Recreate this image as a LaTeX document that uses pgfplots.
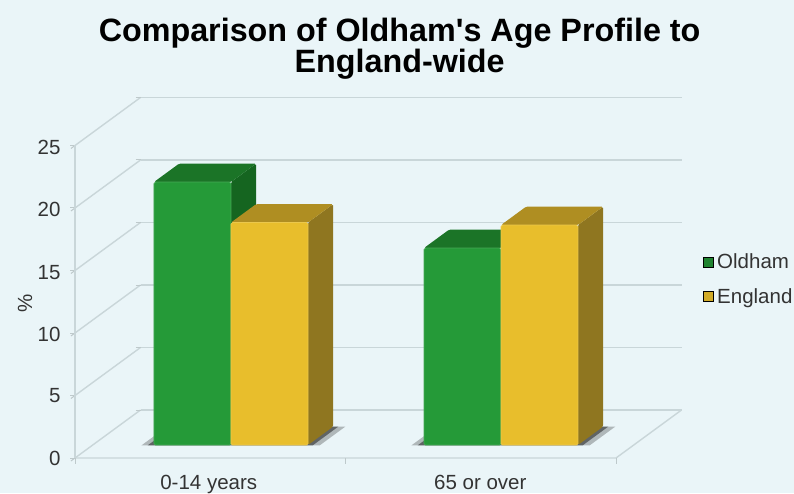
\documentclass[border=0pt]{standalone}
\usepackage{fontspec}
\setmainfont{Liberation Sans}[Ligatures=TeXOff]
\usepackage{pgfplots}
\pgfplotsset{compat=1.18}
\definecolor{bgc}{HTML}{EAF5F8}
\definecolor{gridc}{HTML}{C9D6D9}
\definecolor{txt}{HTML}{333333}
\definecolor{gf}{HTML}{259A38}
\definecolor{gt}{HTML}{1B7427}
\definecolor{gs}{HTML}{156520}
\definecolor{yf}{HTML}{E8BE2C}
\definecolor{yt}{HTML}{AF8E22}
\definecolor{ys}{HTML}{8F7620}
\pgfplotsset{
  front/.style={draw=#1,line width=0.7pt,rounded corners=1.5pt,forget plot},
  face/.style={draw=none,rounded corners=1.5pt,forget plot},
  shad/.style={fill=black,fill opacity=#1,draw=none,forget plot},
}
\begin{document}
\begin{tikzpicture}[x=1pt,y=1pt]
\useasboundingbox (0,0) rectangle (794,493);
\fill[bgc] (0,0) rectangle (794,493);
\begin{axis}[
  at={(75pt,35pt)},anchor=origin,
  x={(270.5pt,0pt)},y={(65.5pt,48pt)},z={(0pt,12.5pt)},
  xmin=0,xmax=2,ymin=0,ymax=1,zmin=0,zmax=25,
  clip=false,
  axis line style={draw=none},
  xtick=\empty,
  extra x ticks={0.5,1.5},extra x tick labels={0-14 years,65 or over},
  extra x tick style={major tick length=0pt,xticklabel style={yshift=-13.5pt,xshift=5pt}},
  ytick=\empty,
  ztick={0,5,10,15,20,25},
  xtick pos=left,ztick pos=left,
  tick align=outside,major tick length=5pt,
  tick style={gridc!85!gray,line width=1pt},
  major z grid style={gridc,line width=1.4pt},
  zmajorgrids=true,
  ticklabel style={font=\fontsize{20.5}{24}\selectfont,text=txt},
  zticklabel style={xshift=-7pt,yshift=6pt},
  /pgf/number format/assume math mode=true,
  title={Comparison of Oldham's Age Profile to\\England-wide},
  title style={at={(axis cs:1.2,0,32.28)},anchor=center,align=center,
    font=\fontsize{32.3}{31.5}\selectfont\bfseries,text=black},
  zlabel={\%},
  every axis z label/.style={at={(axis cs:-0.185,0,12.4)},rotate=90,anchor=center,
    font=\fontsize{20.5}{24}\selectfont,text=txt},
  legend style={at={(axis cs:2.322,0,14.3)},anchor=west,draw=none,fill=none,
    font=\fontsize{20.5}{24}\selectfont,text=txt,row sep=18pt,inner sep=0pt,
    nodes={inner xsep=3.5pt,inner ysep=0pt}},
  legend image code/.code={\fill[#1] (0pt,-5pt) rectangle (10pt,5pt);},
  legend cell align=left,
]
% floor and axes
\addplot3[gridc,line width=1.4pt,forget plot] coordinates {(0,0,0) (2,0,0) (2,1,0)};
\addplot3[gridc,line width=1.4pt,forget plot] coordinates {(0,0,0) (0,0,25)};
% category tick marks
\addplot3[gridc!85!gray,line width=1pt,forget plot] coordinates {(0,0,0) (0,0,-0.45)};
\addplot3[gridc!85!gray,line width=1pt,forget plot] coordinates {(1,0,0) (1,0,-0.45)};
\addplot3[gridc!85!gray,line width=1pt,forget plot] coordinates {(2,0,0) (2,0,-0.45)};
% shadows
\addplot3[shad=0.25] coordinates {(0.182,0.262,0) (0.841,0.262,0) (0.841,0.655,0) (0.182,0.655,0)} --cycle;
\addplot3[shad=0.45] coordinates {(0.205,0.262,0) (0.815,0.262,0) (0.815,0.655,0) (0.205,0.655,0)} --cycle;
\addplot3[shad=0.25] coordinates {(1.18,0.262,0) (1.839,0.262,0) (1.839,0.655,0) (1.18,0.655,0)} --cycle;
\addplot3[shad=0.45] coordinates {(1.203,0.262,0) (1.813,0.262,0) (1.813,0.655,0) (1.203,0.655,0)} --cycle;
% 0-14: Oldham
\addplot3[fill=gs,face] coordinates {(0.5113,0.27,0) (0.5113,0.655,0) (0.5113,0.655,21.04) (0.5113,0.27,21.04)} --cycle;
\addplot3[fill=gt,face] coordinates {(0.2266,0.27,21.04) (0.5113,0.27,21.04) (0.5113,0.655,21.04) (0.2266,0.655,21.04)} --cycle;
\addplot3[fill=gf,front=gf!85!white] coordinates {(0.2266,0.27,0) (0.5113,0.27,0) (0.5113,0.27,21.04) (0.2266,0.27,21.04)} --cycle;
% 0-14: England
\addplot3[fill=ys,face] coordinates {(0.796,0.27,0) (0.796,0.655,0) (0.796,0.655,17.8) (0.796,0.27,17.8)} --cycle;
\addplot3[fill=yt,face] coordinates {(0.5113,0.27,17.8) (0.796,0.27,17.8) (0.796,0.655,17.8) (0.5113,0.655,17.8)} --cycle;
\addplot3[fill=yf,front=yf!85!white] coordinates {(0.5113,0.27,0) (0.796,0.27,0) (0.796,0.27,17.8) (0.5113,0.27,17.8)} --cycle;
% 65+: Oldham
\addplot3[fill=gs,face] coordinates {(1.5095,0.27,0) (1.5095,0.655,0) (1.5095,0.655,15.76) (1.5095,0.27,15.76)} --cycle;
\addplot3[fill=gt,face] coordinates {(1.2248,0.27,15.76) (1.5095,0.27,15.76) (1.5095,0.655,15.76) (1.2248,0.655,15.76)} --cycle;
\addplot3[fill=gf,front=gf!85!white] coordinates {(1.2248,0.27,0) (1.5095,0.27,0) (1.5095,0.27,15.76) (1.2248,0.27,15.76)} --cycle;
% 65+: England
\addplot3[fill=ys,face] coordinates {(1.794,0.27,0) (1.794,0.655,0) (1.794,0.655,17.6) (1.794,0.27,17.6)} --cycle;
\addplot3[fill=yt,face] coordinates {(1.5095,0.27,17.6) (1.794,0.27,17.6) (1.794,0.655,17.6) (1.5095,0.655,17.6)} --cycle;
\addplot3[fill=yf,front=yf!85!white] coordinates {(1.5095,0.27,0) (1.794,0.27,0) (1.794,0.27,17.6) (1.5095,0.27,17.6)} --cycle;
\addlegendimage{fill=gf!85!black}
\addlegendentry{Oldham}
\addlegendimage{fill=yf!90!black}
\addlegendentry{England}
\end{axis}
\end{tikzpicture}
\end{document}
